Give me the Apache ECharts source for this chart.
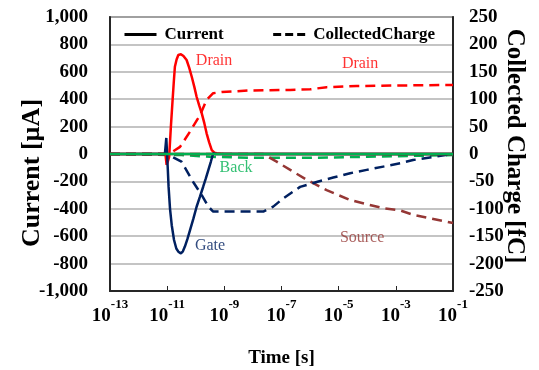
<!DOCTYPE html>
<html>
<head>
<meta charset="utf-8">
<script src="https://cdn.jsdelivr.net/npm/echarts@6/dist/echarts.min.js"></script>
<style>
html,body{margin:0;padding:0;background:#fff;}
#main{width:539px;height:370px;}
</style>
</head>
<body>
<div id="main"></div>
<script>
// time values are stored as exponents: t = 10^x [s]
var xTicks = [-13, -11, -9, -7, -5, -3, -1];

// current [uA]
var drainCurT = [-13, -11.06, -11.02, -10.97, -10.93, -10.87, -10.81, -10.77, -10.73, -10.67, -10.61, -10.52, -10.43, -10.32, -10.23, -10.14, -10.05, -9.97, -9.88, -9.79, -9.70, -9.62, -9.53, -9.44, -9.35, -9.27, -9.0, -1];
var drainCurV = [0, 0, -80, -50, -20, 200, 394, 520, 637, 690, 723, 728, 715, 686, 630, 564, 490, 418, 355, 297, 225, 151, 85, 29, 10, 5, 0, 0];
var gateCurT = [-13, -11.08, -11.03, -10.98, -10.95, -10.90, -10.84, -10.76, -10.68, -10.61, -10.52, -10.45, -10.38, -10.29, -10.20, -10.08, -9.97, -9.85, -9.74, -9.65, -9.56, -9.47, -9.39, -9.30, -1];
var gateCurV = [0, 0, 117, -100, -240, -400, -520, -628, -690, -713, -725, -710, -676, -620, -555, -470, -385, -310, -239, -180, -117, -55, 5, 0, 0];
var sourceCurT = [-13, -1];
var sourceCurV = [0, 0];
var backCurT = [-13, -1];
var backCurV = [0, 0];

// collected charge [fC]
var drainQT = [-13, -11.0, -10.9, -10.55, -10.2, -9.85, -9.62, -9.39, -9.09, -8.1, -6.7, -6.0, -5.42, -4.37, -2.97, -1];
var drainQV = [0, 0, 1, 13, 41, 71, 99, 111, 113, 116, 117, 118, 122, 124, 125, 126];
var gateQT = [-13, -11.02, -10.5, -10.09, -9.79, -9.56, -9.39, -8.69, -7.64, -7.29, -6.94, -6.35, -5.77, -5.19, -4.6, -4.02, -3.44, -2.85, -2.4, -1];
var gateQV = [0, 0, -14, -51, -75, -96, -105, -105, -105, -96, -81, -60, -51, -43, -35, -29, -23, -17, -11, 0];
var sourceQT = [-13, -7.64, -7.17, -6.12, -5.42, -4.6, -3.44, -2.85, -2.39, -1];
var sourceQV = [0, 0, -14, -47, -66, -84, -99, -103, -111, -126];
var backQT = [-13, -10.5, -9.5, -8, -6, -4, -2, -1];
var backQV = [0, -2, -5, -7, -7, -5, -3, -2];

// text annotations (left axis units)
var noteText = ['Drain', 'Drain', 'Back', 'Gate', 'Source'];
var noteT = [-9.36, -4.25, -8.59, -9.5, -4.18];
var noteV = [679, 657, -102, -672, -613];
var noteColor = ['#ff0000', '#ff0000', '#00b050', '#002060', '#953735'];

var RED = '#ff0000', NAVY = '#002060', GREEN = '#00b050', BROWN = '#953735';
var FONT = "'Liberation Serif', 'Times New Roman', serif";

function pairs(t, v) {
	var out = [];
	for (var i = 0; i < t.length; i++) out.push([t[i], v[i]]);
	return out;
}
function comma(v) {
	var s = String(Math.abs(v)).replace(/\B(?=(\d{3})+(?!\d))/g, ',');
	return (v < 0 ? '-' : '') + s;
}
function dashed(name, color, t, v) {
	return {
		name: name, type: 'line', yAxisIndex: 1, symbol: 'none', silent: true,
		lineStyle: {color: color, width: 2.5, type: [10, 6]},
		data: pairs(t, v), z: 2
	};
}
function solid(name, color, t, v, z) {
	return {
		name: name, type: 'line', yAxisIndex: 0, symbol: 'none', silent: true,
		lineStyle: {color: color, width: 2.5},
		data: pairs(t, v), z: z || 3
	};
}

var notes = [];
for (var i = 0; i < noteText.length; i++) {
	notes.push({
		value: [noteT[i], noteV[i]], name: noteText[i],
		label: {color: noteColor[i]}
	});
}

var myChart = echarts.init(document.getElementById('main'));
var option = {
	animation: false,
	backgroundColor: '#fff',
	grid: {
		left: 110, right: 86, top: 17, bottom: 79,
		outerBoundsMode: 'none',
		show: true, borderColor: '#404040', borderWidth: 1.5
	},
	legend: {
		data: ['Current', 'CollectedCharge'],
		left: 118, top: 21,
		itemWidth: 32, itemHeight: 14, itemGap: 48,
		itemStyle: {opacity: 0},
		lineStyle: {width: 3},
		textStyle: {fontFamily: FONT, fontWeight: 'bold', fontSize: 17, color: '#000', padding: [0, 0, 0, 3]}
	},
	xAxis: {
		type: 'value', min: -13, max: -1, interval: 2,
		name: 'Time [s]', nameLocation: 'middle', nameGap: 58, nameMoveOverlap: false,
		nameTextStyle: {fontFamily: FONT, fontWeight: 'bold', fontSize: 19, color: '#000'},
		axisLine: {onZero: false, lineStyle: {color: '#262626', width: 2}},
		axisTick: {inside: true, length: 5, lineStyle: {color: '#262626', width: 1}},
		splitLine: {show: false},
		axisLabel: {
			margin: 7, interval: 0, hideOverlap: false,
			formatter: function (v) { return '{b|10}{s|' + v + '}'; },
			rich: {
				b: {fontFamily: FONT, fontWeight: 'bold', fontSize: 19, lineHeight: 36, color: '#000'},
				s: {fontFamily: FONT, fontWeight: 'bold', fontSize: 13, lineHeight: 15, verticalAlign: 'top', color: '#000'}
			}
		}
	},
	yAxis: [
		{
			type: 'value', min: -1000, max: 1000, interval: 200,
			name: 'Current [µA]', nameLocation: 'middle', nameGap: 65, nameRotate: 90, nameMoveOverlap: false,
			nameTextStyle: {fontFamily: FONT, fontWeight: 'bold', fontSize: 26, color: '#000', padding: [0, 38, 0, 0]},
			axisLine: {show: true, onZero: false, lineStyle: {color: '#262626', width: 2}},
			axisTick: {show: false},
			splitLine: {lineStyle: {color: '#b0b0b0', width: 1.5}},
			axisLabel: {
				margin: 22, formatter: comma,
				fontFamily: FONT, fontWeight: 'bold', fontSize: 19, color: '#000'
			}
		},
		{
			type: 'value', min: -250, max: 250, interval: 50, position: 'right',
			name: 'Collected Charge [fC]', nameLocation: 'middle', nameGap: 49, nameRotate: -90, nameMoveOverlap: false,
			nameTextStyle: {fontFamily: FONT, fontWeight: 'bold', fontSize: 25, color: '#000', padding: [0, 16, 0, 0]},
			axisLine: {show: true, onZero: false, lineStyle: {color: '#262626', width: 2}},
			axisTick: {show: false},
			splitLine: {show: false},
			axisLabel: {
				margin: 16,
				fontFamily: FONT, fontWeight: 'bold', fontSize: 19, color: '#000'
			}
		}
	],
	series: [
		// legend-only entries
		{name: 'Current', type: 'line', symbol: 'none', data: [], lineStyle: {color: '#000', width: 3}, itemStyle: {color: '#000'}},
		{name: 'CollectedCharge', type: 'line', symbol: 'none', data: [], lineStyle: {color: '#000', width: 3, type: [8, 4]}, itemStyle: {color: '#000'}},
		dashed('Back Q', GREEN, backQT, backQV),
		dashed('Source Q', BROWN, sourceQT, sourceQV),
		dashed('Gate Q', NAVY, gateQT, gateQV),
		dashed('Drain Q', RED, drainQT, drainQV),
		solid('Source I', BROWN, sourceCurT, sourceCurV),
		solid('Drain I', RED, drainCurT, drainCurV),
		solid('Gate I', NAVY, gateCurT, gateCurV),
		solid('Back I', GREEN, backCurT, backCurV, 5),
		{
			name: 'notes', type: 'scatter', yAxisIndex: 0, symbolSize: 0, silent: true, z: 6,
			label: {
				show: true, position: 'inside',
				formatter: function (p) { return p.name; },
				fontFamily: FONT, fontSize: 16
			},
			data: notes
		}
	]
};
myChart.setOption(option);
</script>
</body>
</html>
